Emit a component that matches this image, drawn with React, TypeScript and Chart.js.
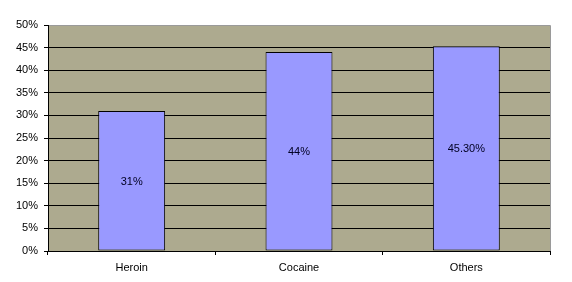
import React, { useEffect, useRef } from "react";
import { Chart, registerables } from "chart.js";

Chart.register(...registerables);

const categories = ["Heroin", "Cocaine", "Others"];
const values = [31, 44, 45.3];
const valueLabels = ["31%", "44%", "45.30%"];
const yTicks = [0, 5, 10, 15, 20, 25, 30, 35, 40, 45, 50];

const FONT = "'Liberation Sans', Arial, sans-serif";

const plotBg = {
  id: "plotBg",
  beforeDraw(chart: any) {
    const { ctx, chartArea: a } = chart;
    ctx.save();
    ctx.fillStyle = "#ADAA8F";
    ctx.fillRect(a.left, a.top, a.right - a.left, a.bottom - a.top);
    ctx.strokeStyle = "#9A9A9A";
    ctx.lineWidth = 1;
    ctx.beginPath();
    ctx.moveTo(a.left, a.top + 0.5);
    ctx.lineTo(a.right + 0.5, a.top + 0.5);
    ctx.lineTo(a.right + 0.5, a.bottom);
    ctx.stroke();
    ctx.restore();
  },
};

const barLabels = {
  id: "barLabels",
  afterDatasetsDraw(chart: any) {
    const { ctx } = chart;
    const meta = chart.getDatasetMeta(0);
    ctx.save();
    ctx.font = `11px ${FONT}`;
    ctx.fillStyle = "#000022";
    ctx.textAlign = "center";
    ctx.textBaseline = "middle";
    meta.data.forEach((bar: any, i: number) => {
      const y = (bar.y + bar.base) / 2 + 1;
      ctx.fillText(valueLabels[i], bar.x, y);
    });
    ctx.restore();
  },
};

export default function App() {
  const ref = useRef<HTMLCanvasElement | null>(null);
  useEffect(() => {
    document.body.style.margin = "0";
    const chart = new Chart(ref.current as HTMLCanvasElement, {
      type: "bar",
      data: {
        labels: categories,
        datasets: [
          {
            data: values,
            backgroundColor: "#9999FF",
            borderColor: "#000000",
            borderWidth: 1,
            borderSkipped: false,
            categoryPercentage: 1,
            barPercentage: 0.4,
          },
        ],
      },
      options: {
        animation: false,
        responsive: false,
        maintainAspectRatio: false,
        layout: { padding: { top: 25, right: 22, left: 0, bottom: 0 } },
        plugins: { legend: { display: false }, tooltip: { enabled: false } },
        scales: {
          x: {
            offset: true,
            grid: {
              offset: true,
              drawOnChartArea: false,
              drawTicks: true,
              tickLength: 4,
              color: "#000",
            },
            border: { display: true, color: "#000" },
            ticks: { color: "#000", font: { family: FONT, size: 11 }, padding: 6 },
            afterFit(scale: any) {
              scale.height = 31;
            },
          },
          y: {
            min: 0,
            max: 50,
            afterBuildTicks(scale: any) {
              scale.ticks = yTicks.map((v) => ({ value: v }));
            },
            grid: {
              color: (c: any) => (c.tick && c.tick.value === 50 ? "#9A9A9A" : "#000"),
              tickColor: "#000",
              tickLength: 4,
            },
            border: { display: true, color: "#000" },
            ticks: {
              color: "#000",
              font: { family: FONT, size: 11 },
              padding: 6,
              callback: (v: any) => v + "%",
            },
            afterFit(scale: any) {
              scale.width = 48;
            },
          },
        },
      },
      plugins: [plotBg, barLabels],
    });
    return () => chart.destroy();
  }, []);
  return (
    <div style={{ width: 572, height: 282, background: "#fff" }}>
      <canvas ref={ref} width={572} height={282} />
    </div>
  );
}
